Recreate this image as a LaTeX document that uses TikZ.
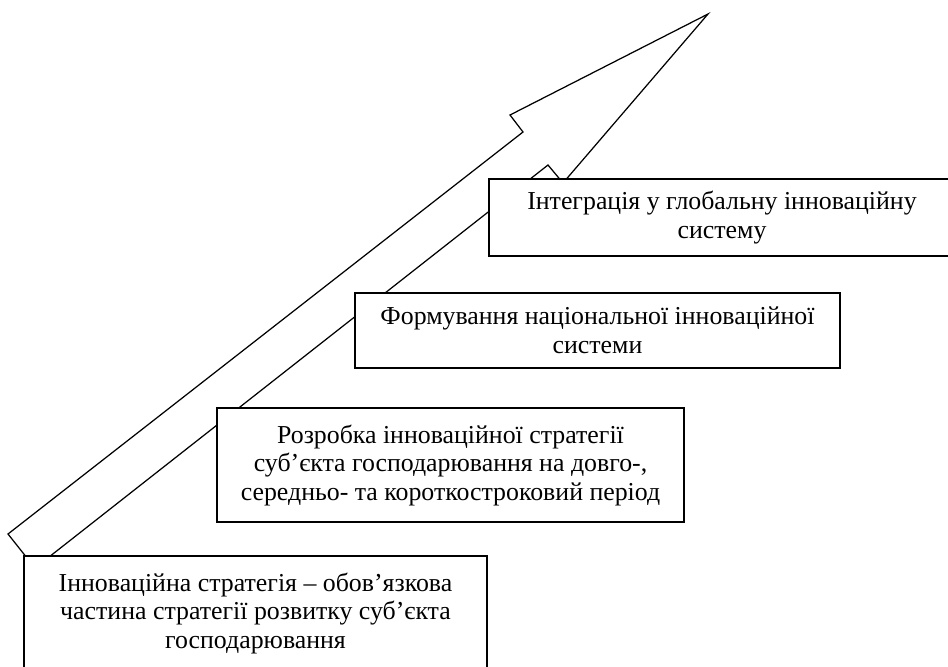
\documentclass[tikz,border=0pt]{standalone}
\usepackage{fontspec}
\setmainfont{Liberation Serif}
\newdimen\pxu \pxu=0.565pt
\tikzset{
  stagebox/.style={draw, fill=white, line width=1.1pt, align=center, inner sep=0pt,
    font=\fontsize{14.6}{16.1}\selectfont},
  arrowline/.style={draw, line width=0.7pt, line join=miter}
}
\begin{document}
\begin{tikzpicture}[x=0.565pt, y=-0.565pt]
    \useasboundingbox (0,0) rectangle (948,666);
    \clip (0,0) rectangle (948,666);

    % Big arrow (behind the boxes)
    \path[arrowline] (8,534) -- (523,132) -- (510,115) -- (708,14)
        -- (563,183) -- (548,165) -- (35,568) -- cycle;

    % Stage boxes
    \node[stagebox, minimum width=463\pxu, minimum height=114\pxu] (S1) at (255.5,613)
        {Інноваційна стратегія – обов’язкова\\частина стратегії розвитку суб’єкта\\господарювання};
    \node[stagebox, minimum width=467\pxu, minimum height=114\pxu] (S2) at (450.5,465)
        {Розробка інноваційної стратегії\\суб’єкта господарювання на довго-,\\середньо- та короткостроковий період};
    \node[stagebox, minimum width=485\pxu, minimum height=75\pxu] (S3) at (597.5,330.5)
        {Формування національної інноваційної\\системи};
    \node[stagebox, minimum width=466\pxu, minimum height=77\pxu] (S4) at (722,217.5)
        {Інтеграція у глобальну інноваційну\\систему};
\end{tikzpicture}
\end{document}
